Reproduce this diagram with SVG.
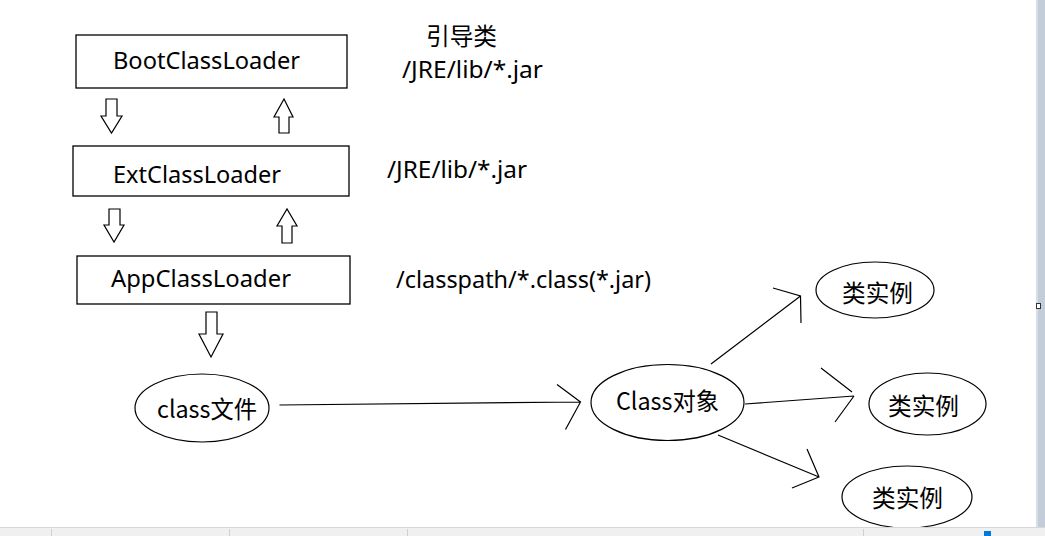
<svg xmlns="http://www.w3.org/2000/svg" width="1045" height="536" viewBox="0 0 1045 536">
  <style>
    .box { fill: #ffffff; stroke: #000000; stroke-width: 1.3; }
    .blk { fill: #ffffff; stroke: #000000; stroke-width: 1.2; stroke-linejoin: miter; }
    .ell { fill: #ffffff; stroke: #000000; stroke-width: 1.2; }
    .ln { fill: none; stroke: #000000; stroke-width: 1.2; }
    .t { font-family: "Noto Sans", "Noto Sans CJK SC", sans-serif; font-size: 23px; fill: #000000; }
    .c { font-family: "Noto Sans CJK SC", sans-serif; font-size: 24px; fill: #000000; }
  </style>
  <rect x="0" y="0" width="1045" height="536" fill="#ffffff"/>

  <g id="boot">
    <rect class="box" x="76" y="35" width="271" height="53"/>
    <text class="t" x="113" y="69" textLength="187" lengthAdjust="spacingAndGlyphs">BootClassLoader</text>
  </g>
  <g id="ext">
    <rect class="box" x="73" y="146" width="276" height="50"/>
    <text class="t" x="113" y="183" textLength="168" lengthAdjust="spacingAndGlyphs">ExtClassLoader</text>
  </g>
  <g id="app">
    <rect class="box" x="77" y="256" width="273" height="48"/>
    <text class="t" x="111" y="287" textLength="180" lengthAdjust="spacingAndGlyphs">AppClassLoader</text>
  </g>

  <g id="label-boot">
    <text class="c" x="426" y="45" textLength="71" lengthAdjust="spacingAndGlyphs">引导类</text>
    <text class="t" x="402" y="78" textLength="141" lengthAdjust="spacingAndGlyphs">/JRE/lib/*.jar</text>
  </g>
  <g id="label-ext">
    <text class="t" x="387" y="178" textLength="140" lengthAdjust="spacingAndGlyphs">/JRE/lib/*.jar</text>
  </g>
  <g id="label-app">
    <text class="t" x="396" y="288" textLength="255" lengthAdjust="spacingAndGlyphs">/classpath/*.class(*.jar)</text>
  </g>

  <g id="block-arrows">
    <polygon class="blk" points="106,99 117,99 117,116 122,116 111.5,133 101,116 106,116"/>
    <polygon class="blk" points="279,133 289,133 289,117 293,117 284,99 274,117 279,117"/>
    <polygon class="blk" points="109,209 120,209 120,225 124,225 114,242 104,225 109,225"/>
    <polygon class="blk" points="282,243 292,243 292,226 297,226 287,209 277,226 282,226"/>
    <polygon class="blk" points="206,312 217,312 217,334 223,334 211,357 199,334 206,334"/>
  </g>

  <g id="classfile">
    <ellipse class="ell" cx="202" cy="408" rx="67" ry="34"/>
    <text class="c" x="157" y="418" textLength="100" lengthAdjust="spacingAndGlyphs">class文件</text>
  </g>
  <g id="classobj">
    <ellipse class="ell" cx="667.5" cy="402.5" rx="76.5" ry="38"/>
    <text class="c" x="616" y="410" textLength="103" lengthAdjust="spacingAndGlyphs">Class对象</text>
  </g>
  <g id="inst1">
    <ellipse class="ell" cx="875" cy="290" rx="59" ry="28"/>
    <text class="c" x="842" y="302" textLength="71" lengthAdjust="spacingAndGlyphs">类实例</text>
  </g>
  <g id="inst2">
    <ellipse class="ell" cx="927.5" cy="404" rx="58.5" ry="31"/>
    <text class="c" x="888" y="415" textLength="71" lengthAdjust="spacingAndGlyphs">类实例</text>
  </g>
  <g id="inst3">
    <ellipse class="ell" cx="907" cy="497" rx="65" ry="31"/>
    <text class="c" x="872" y="507" textLength="71" lengthAdjust="spacingAndGlyphs">类实例</text>
  </g>

  <g id="connectors">
    <path class="ln" d="M279.5,405 L580.5,402 M557,384.5 L580.5,402 L565.5,429.5"/>
    <path class="ln" d="M711,364 L800.5,296 M773,288 L800.5,296 L801,323"/>
    <path class="ln" d="M745,404 L854,396 M821,368 L852,392 M835,422 L854,396"/>
    <path class="ln" d="M718,435 L819,477 M807,449 L819,477 L792,488"/>
  </g>

  <rect x="1036" y="0" width="9" height="527" fill="#c3ccd9"/>
  <rect x="1036" y="0" width="2" height="527" fill="#d8dee7"/>
  <rect x="1036.5" y="303.5" width="4" height="5" fill="#ffffff" stroke="#333333" stroke-width="1"/>
  <rect x="0" y="527" width="1045" height="9" fill="#f0f0f0"/>
  <line x1="0" y1="527.5" x2="1045" y2="527.5" stroke="#d7d7d7" stroke-width="1"/>
  <line x1="51.5" y1="529" x2="51.5" y2="536" stroke="#d0d0d0"/>
  <line x1="229.5" y1="529" x2="229.5" y2="536" stroke="#d0d0d0"/>
  <line x1="407.5" y1="529" x2="407.5" y2="536" stroke="#d0d0d0"/>
  <line x1="863.5" y1="529" x2="863.5" y2="536" stroke="#d0d0d0"/>
  <rect x="984" y="531" width="7" height="5" fill="#0078d7"/>
</svg>
